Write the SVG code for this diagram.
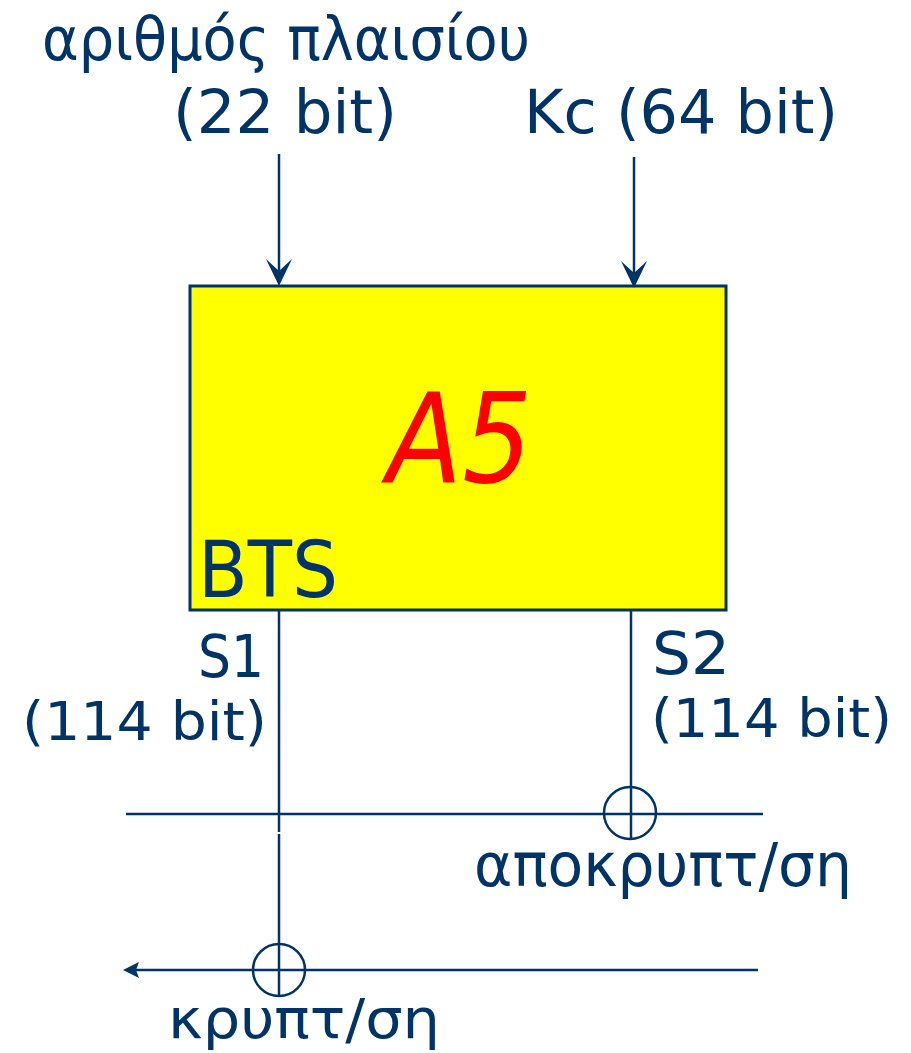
<svg xmlns="http://www.w3.org/2000/svg" width="911" height="1053" viewBox="0 0 911 1053">
<defs>
<style>
.t{font-family:"DejaVu Sans","Noto Sans",sans-serif;fill:#003366;font-size:60px}
.ln{stroke:#003366;stroke-width:2.5;fill:none}
.ah{fill:#003366}
</style>
</defs>
<rect width="911" height="1053" fill="#ffffff"/>
<g id="label-frame">
<text class="t" x="42" y="60" textLength="488" lengthAdjust="spacingAndGlyphs">αριθμός πλαισίου</text>
<text class="t" x="173" y="133" textLength="224" lengthAdjust="spacingAndGlyphs">(22 bit)</text>
</g>
<g id="label-kc">
<text class="t" x="524" y="133" textLength="314" lengthAdjust="spacingAndGlyphs">Kc (64 bit)</text>
</g>
<g id="a5">
<rect x="190" y="286" width="536" height="324" fill="#ffff00" stroke="#003366" stroke-width="3"/>
<text x="387" y="482" textLength="145" lengthAdjust="spacingAndGlyphs" style="font-family:'DejaVu Sans',sans-serif;font-size:124px;fill:#ff0000;font-style:italic">A5</text>
<text class="t" x="198" y="597" textLength="140" lengthAdjust="spacingAndGlyphs" style="font-size:78px">BTS</text>
</g>
<g id="label-s1">
<text class="t" x="198" y="677" textLength="66" lengthAdjust="spacingAndGlyphs" style="font-size:58px">S1</text>
<text class="t" x="22" y="740" textLength="245" lengthAdjust="spacingAndGlyphs" style="font-size:54px">(114 bit)</text>
</g>
<g id="label-s2">
<text class="t" x="652" y="674" textLength="78" lengthAdjust="spacingAndGlyphs" style="font-size:58px">S2</text>
<text class="t" x="651" y="737" textLength="241" lengthAdjust="spacingAndGlyphs" style="font-size:54px">(114 bit)</text>
</g>
<g id="xor-decrypt">
<circle cx="630" cy="813" r="26" class="ln"/>
<text class="t" x="474" y="886" textLength="378" lengthAdjust="spacingAndGlyphs">αποκρυπτ/ση</text>
</g>
<g id="xor-encrypt">
<circle cx="279" cy="970" r="26" class="ln"/>
<text class="t" x="168" y="1038" textLength="272" lengthAdjust="spacingAndGlyphs" style="font-size:56px">κρυπτ/ση</text>
</g>
<g id="connectors">
<path class="ln" d="M279,154 V275"/>
<path class="ah" d="M279,286 L266,259 L279,271 L292,259 Z"/>
<path class="ln" d="M634,157 V277"/>
<path class="ah" d="M634,288 L621,261 L634,273 L647,261 Z"/>
<path class="ln" d="M279,610 V832 M279,834 V996"/>
<path class="ln" d="M631,610 V839"/>
<path class="ln" d="M126,814 H763"/>
<path class="ln" d="M758,970 H134"/>
<path class="ah" d="M123,970 L139,962 L136,970 L139,978 Z"/>
</g>
</svg>
